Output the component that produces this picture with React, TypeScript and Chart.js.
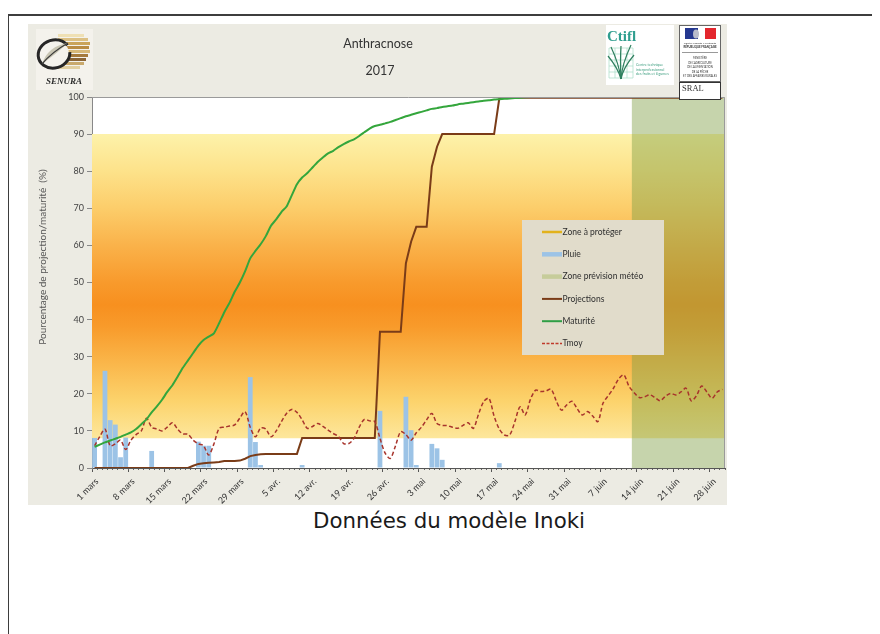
import React, { useEffect, useRef } from "react";
import { Chart, registerables } from "chart.js";

Chart.register(...registerables);

// ---- data (index 0 = 1 mars, index 121 = 30 juin) ----
const DAY_COUNT = 122;
const TICK_STEP = 7;
const TICK_LABELS = [
  "1 mars", "8 mars", "15 mars", "22 mars", "29 mars", "5 avr.", "12 avr.", "19 avr.", "26 avr.",
  "3 mai", "10 mai", "17 mai", "24 mai", "31 mai", "7 juin", "14 juin", "21 juin", "28 juin",
];
const FORECAST_START = 104; // 13 juin
const ZONE_HIGH = 90;
const ZONE_LOW = 8;
const Y_MAX = 100;

const PLUIE = [
  8.1, 0, 26.2, 12.9, 11.7, 2.9, 8.2, 0, 0, 0,
  0, 4.6, 0, 0, 0, 0, 0, 0, 0, 0,
  7.1, 6.0, 6.0, 0, 0, 0, 0, 0, 0, 0,
  24.5, 7.0, 0.8, 0, 0, 0, 0, 0, 0, 0,
  0.8, 0, 0, 0, 0, 0, 0, 0, 0, 0,
  0, 0, 0, 0, 0, 15.4, 0, 0, 0, 0,
  19.2, 10.2, 0.8, 0, 0, 6.5, 5.3, 2.2, 0, 0,
  0, 0, 0, 0, 0, 0, 0, 0, 1.3, 0,
  0, 0, 0, 0, 0, 0, 0, 0, 0, 0,
  0, 0, 0, 0, 0, 0, 0, 0, 0, 0,
  0, 0, 0, 0, 0, 0, 0, 0, 0, 0,
  0, 0, 0, 0, 0, 0, 0, 0, 0, 0,
  0, 0,
];

const PROJECTIONS = [
  0, 0, 0, 0, 0, 0, 0, 0, 0, 0,
  0, 0, 0, 0, 0, 0, 0, 0, 0, 0.6,
  1.1, 1.3, 1.4, 1.5, 1.6, 1.9, 1.9, 1.9, 2.0, 2.5,
  3.2, 3.5, 3.7, 3.8, 3.8, 3.8, 3.8, 3.8, 3.8, 3.8,
  8.1, 8.1, 8.1, 8.1, 8.1, 8.1, 8.1, 8.1, 8.1, 8.1,
  8.1, 8.1, 8.1, 8.1, 8.1, 36.7, 36.7, 36.7, 36.7, 36.7,
  55.2, 61, 65, 65, 65, 81.2, 86.6, 90, 90, 90,
  90, 90, 90, 90, 90, 90, 90, 90, 99.6, 99.8,
  99.8, 99.8, 99.8, 99.8, 99.8, 99.8, 99.8, 99.8, 99.8, 99.8,
  99.8, 99.8, 99.8, 99.8, 99.8, 99.8, 99.8, 99.8, 99.8, 99.8,
  99.8, 99.8, 99.8, 99.8, 99.8, 99.8, 99.8, 99.8, 99.8, 99.8,
  99.8, 99.8, 99.8, 99.8, 99.8, 99.8, 99.8, 99.8, 99.8, 99.8,
  99.8, 99.8,
];

const MATURITE = [
  5.7, 6.3, 6.9, 7.4, 7.9, 8.4, 9.0, 9.6, 10.5, 11.8,
  13.1, 15.0, 16.6, 18.4, 20.5, 22.3, 24.6, 27.0, 29.0, 31.0,
  33.0, 34.5, 35.4, 36.3, 39.0, 42.0, 44.5, 47.5, 50.0, 53.0,
  56.5, 58.5, 60.3, 62.5, 65.3, 67.0, 69.0, 70.5, 73.5, 76.5,
  78.3, 79.5, 81.0, 82.5, 83.7, 84.8, 85.5, 86.5, 87.3, 88.0,
  88.6, 89.5, 90.5, 91.5, 92.2, 92.5, 92.9, 93.3, 93.8, 94.3,
  94.8, 95.2, 95.6, 96.0, 96.4, 96.8, 97.0, 97.3, 97.5, 97.7,
  98.0, 98.2, 98.4, 98.6, 98.8, 99.0, 99.1, 99.3, 99.4, 99.5,
  99.6, 99.7, 99.8, 99.9, 100, 100, 100, 100, 100, 100,
  100, 100, 100, 100, 100, 100, 100, 100, 100, 100,
  100, 100, 100, 100, 100, 100, 100, 100, 100, 100,
  100, 100, 100, 100, 100, 100, 100, 100, 100, 100,
  100, 100,
];

const TMOY = [
  6.0, 8.5, 10.5, 6.0, 6.5, 7.5, 5.0, 7.5, 9.0, 10.0,
  13.4, 11.0, 10.5, 10.0, 11.0, 12.2, 10.5, 9.2, 9.1, 7.5,
  6.5, 6.0, 3.5, 6.5, 10.7, 11.0, 11.3, 11.6, 13.5, 15.2,
  11.0, 8.4, 10.8, 10.5, 8.4, 10.0, 12.5, 14.7, 15.8, 15.0,
  13.0, 10.7, 11.2, 12.0, 11.2, 10.2, 9.3, 8.5, 6.6, 6.6,
  8.0, 11.0, 13.1, 12.7, 12.5, 8.0, 4.0, 2.6, 6.0, 9.8,
  9.0, 7.5, 9.5, 11.0, 13.0, 14.7, 12.0, 11.5, 11.4, 11.0,
  10.7, 11.5, 12.2, 10.7, 14.5, 17.9, 18.8, 14.0, 10.5, 8.9,
  8.9, 12.5, 16.5, 14.3, 18.5, 21.0, 20.6, 20.8, 21.2, 18.0,
  15.6, 17.0, 18.0, 16.0, 14.3, 15.2, 14.0, 12.5, 17.5, 19.5,
  21.5, 24.0, 25.1, 22.0, 20.3, 19.0, 19.2, 19.7, 19.0, 18.1,
  19.3, 20.1, 19.7, 20.5, 21.5, 18.1, 19.5, 22.1, 20.5, 18.8,
  20.5, 21.2,
];

// ---- styles ----
const BG = "#ecebe3";
const C_RAIN = "#9cc3e6";
const C_PROJ = "#7a3c18";
const C_MAT = "#34a63c";
const C_TMOY = "#a8342c";
const C_FORECAST = "rgba(128,160,70,0.45)";
const ZONE_STOPS: [number, string][] = [
  [90, "#fdf2aa"], [80, "#fde28a"], [70, "#fccd6a"], [60, "#fab24a"], [50, "#f89a2c"],
  [44, "#f7901f"], [38, "#f89b2b"], [28, "#fab74b"], [18, "#fcd36c"], [8, "#fde79c"],
];

const LEGEND = [
  { label: "Zone à protéger", kind: "line", color: "#e2b21c", width: 2.5 },
  { label: "Pluie", kind: "line", color: C_RAIN, width: 4.5 },
  { label: "Zone prévision météo", kind: "line", color: "#c6cc9a", width: 4.5 },
  { label: "Projections", kind: "line", color: C_PROJ, width: 2 },
  { label: "Maturité", kind: "line", color: "#2f9e45", width: 2 },
  { label: "Tmoy", kind: "dash", color: "#c0392b", width: 1.3 },
];

const pts = (arr: number[]) => arr.map((y, i) => ({ x: i + 0.5, y }));

const zoneGradient = (c: any) => {
  const chart = c.chart;
  if (!chart.chartArea || !chart.scales.y) return "#f8a030";
  const ys = chart.scales.y;
  const top = ys.getPixelForValue(ZONE_HIGH);
  const bot = ys.getPixelForValue(ZONE_LOW);
  const g = chart.ctx.createLinearGradient(0, top, 0, bot);
  ZONE_STOPS.forEach(([v, col]) => g.addColorStop((ZONE_HIGH - v) / (ZONE_HIGH - ZONE_LOW), col));
  return g;
};

function drawSenura(ctx: CanvasRenderingContext2D) {
  ctx.save();
  ctx.fillStyle = "#f4f2ec";
  ctx.fillRect(8, 5, 57, 61);
  const stripes: [string, number, number][] = [
    ["#efe0b4", 10, 26], ["#dcc083", 14, 30], ["#caa45a", 18, 32], ["#b98c44", 22, 31],
    ["#d8b978", 26, 32], ["#a57a3c", 30, 30], ["#8c6636", 34, 28], ["#c9a96c", 38, 26], ["#e2cfa0", 42, 22],
  ];
  stripes.forEach(([c, y, w]) => {
    ctx.fillStyle = c;
    ctx.fillRect(30, y, w, 3);
  });
  ctx.fillStyle = "#f4f2ec";
  ctx.beginPath();
  ctx.ellipse(26, 30, 15, 14, -0.3, 0, Math.PI * 2);
  ctx.fill();
  ctx.strokeStyle = "#262626";
  ctx.lineWidth = 3;
  ctx.beginPath();
  ctx.ellipse(26, 30, 16, 14, -0.3, 0.2, Math.PI * 1.9);
  ctx.stroke();
  ctx.fillStyle = "#c9c6b4";
  ctx.beginPath();
  ctx.moveTo(14, 40);
  ctx.quadraticCurveTo(20, 22, 40, 19);
  ctx.quadraticCurveTo(28, 30, 14, 40);
  ctx.fill();
  ctx.strokeStyle = "#3a3a3a";
  ctx.lineWidth = 1.2;
  ctx.beginPath();
  ctx.moveTo(14, 40);
  ctx.quadraticCurveTo(24, 28, 40, 19);
  ctx.stroke();
  ctx.font = 'italic bold 9px "Liberation Serif"';
  ctx.fillStyle = "#2b2b2b";
  ctx.textAlign = "center";
  ctx.textBaseline = "alphabetic";
  ctx.fillText("SENURA", 36, 60);
  ctx.restore();
}

function drawCtifl(ctx: CanvasRenderingContext2D) {
  ctx.save();
  ctx.fillStyle = "#ffffff";
  ctx.fillRect(578, 1, 68, 60);
  ctx.font = 'bold 15px "Liberation Serif"';
  ctx.fillStyle = "#2f9e8f";
  ctx.textAlign = "left";
  ctx.textBaseline = "alphabetic";
  ctx.fillText("Ctifl", 579, 17);
  ctx.strokeStyle = "#a6dcc6";
  ctx.lineWidth = 0.7;
  for (let i = 0; i <= 4; i++) {
    ctx.beginPath();
    ctx.moveTo(581 + i * 6, 24);
    ctx.lineTo(581 + i * 6, 54);
    ctx.stroke();
  }
  for (let j = 0; j <= 5; j++) {
    ctx.beginPath();
    ctx.moveTo(581, 24 + j * 6);
    ctx.lineTo(605, 24 + j * 6);
    ctx.stroke();
  }
  ctx.strokeStyle = "#2f7f5f";
  ctx.lineWidth = 1.2;
  const branches: [number, number, number, number][] = [
    [593, 22, 592, 36], [583, 23, 591, 40], [603, 21, 594, 40], [606, 31, 595, 44], [580, 32, 590, 44],
  ];
  branches.forEach(([x1, y1, cx, cy]) => {
    ctx.beginPath();
    ctx.moveTo(593, 55);
    ctx.quadraticCurveTo(cx, cy, x1, y1);
    ctx.stroke();
  });
  ctx.font = "3.6px Lato";
  ctx.fillStyle = "#3f9f80";
  ctx.fillText("Centre technique", 608, 42);
  ctx.fillText("interprofessionnel", 608, 46.5);
  ctx.fillText("des fruits et légumes", 608, 51);
  ctx.restore();
}

function drawMinistry(ctx: CanvasRenderingContext2D) {
  ctx.save();
  ctx.fillStyle = "#ffffff";
  ctx.fillRect(651, 1, 42, 57);
  ctx.strokeStyle = "#666";
  ctx.lineWidth = 1;
  ctx.strokeRect(651.5, 1.5, 41, 56);
  ctx.fillStyle = "#24378f";
  ctx.fillRect(657, 4, 13, 11);
  ctx.fillStyle = "#e3262d";
  ctx.fillRect(677, 4, 11, 11);
  ctx.fillStyle = "#b9bccb";
  ctx.beginPath();
  ctx.ellipse(668, 10, 3, 4.5, 0, 0, Math.PI * 2);
  ctx.fill();
  ctx.fillStyle = "#333";
  ctx.textAlign = "center";
  ctx.textBaseline = "alphabetic";
  ctx.font = "2.6px Lato";
  ctx.fillText("Liberté • Égalité • Fraternité", 672, 19.5);
  ctx.font = "bold 2.8px Lato";
  ctx.fillText("RÉPUBLIQUE FRANÇAISE", 672, 23.5);
  ctx.strokeStyle = "#999";
  ctx.beginPath();
  ctx.moveTo(654, 28.5);
  ctx.lineTo(690, 28.5);
  ctx.stroke();
  ctx.font = "2.7px Lato";
  ["MINISTÈRE", "DE L'AGRICULTURE", "DE L'ALIMENTATION", "DE LA PÊCHE", "ET DES AFFAIRES RURALES"].forEach(
    (t, i) => ctx.fillText(t, 672, 35 + i * 4.5)
  );
  ctx.fillStyle = "#ffffff";
  ctx.fillRect(651, 58, 42, 18);
  ctx.strokeStyle = "#333";
  ctx.strokeRect(651.5, 58.5, 41, 17);
  ctx.font = '8.5px "Liberation Serif"';
  ctx.fillStyle = "#333";
  ctx.textAlign = "left";
  ctx.fillText("SRAL", 654, 67);
  ctx.restore();
}

const decorPlugin = {
  id: "decor",
  beforeDraw(chart: any) {
    const { ctx, width, height, chartArea: a } = chart;
    ctx.save();
    ctx.fillStyle = BG;
    ctx.fillRect(0, 0, width, height);
    ctx.fillStyle = "#ffffff";
    ctx.fillRect(a.left, a.top, a.right - a.left, a.bottom - a.top);
    ctx.restore();
  },
  afterDraw(chart: any) {
    const { ctx, chartArea: a } = chart;
    ctx.save();
    // plot border (top / right)
    ctx.strokeStyle = "#9a9a9a";
    ctx.lineWidth = 1;
    ctx.beginPath();
    ctx.moveTo(a.left, a.top + 0.5);
    ctx.lineTo(a.right - 0.5, a.top + 0.5);
    ctx.lineTo(a.right - 0.5, a.bottom);
    ctx.stroke();

    // titles
    ctx.fillStyle = "#333";
    ctx.textAlign = "center";
    ctx.textBaseline = "middle";
    ctx.font = "12.5px Lato";
    ctx.fillText("Anthracnose", 350, 20);
    ctx.fillText("2017", 352, 47);

    // y title
    ctx.save();
    ctx.translate(15, 233);
    ctx.rotate(-Math.PI / 2);
    ctx.font = "10px Lato";
    ctx.fillStyle = "#555";
    ctx.fillText("Pourcentage de projection/maturité  (%)", 0, 0);
    ctx.restore();

    // legend
    const LX = 494, LY = 196, LW = 142, LH = 135;
    ctx.fillStyle = "#e1dccb";
    ctx.fillRect(LX, LY, LW, LH);
    ctx.textAlign = "left";
    ctx.textBaseline = "middle";
    ctx.font = "8.5px Lato";
    LEGEND.forEach((it, k) => {
      const cy = LY + 12 + k * 22.3;
      ctx.save();
      ctx.strokeStyle = it.color;
      ctx.lineWidth = it.width;
      if (it.kind === "dash") ctx.setLineDash([3, 1.5]);
      ctx.beginPath();
      ctx.moveTo(LX + 20, cy);
      ctx.lineTo(LX + 40, cy);
      ctx.stroke();
      ctx.restore();
      ctx.fillStyle = "#2f2f2f";
      ctx.fillText(it.label, LX + 40.5, cy);
    });

    drawSenura(ctx);
    drawCtifl(ctx);
    drawMinistry(ctx);
    ctx.restore();
  },
};

function ChartCanvas() {
  const ref = useRef<HTMLCanvasElement | null>(null);
  useEffect(() => {
    if (!ref.current) return;
    const chart = new Chart(ref.current, {
      type: "line",
      data: {
        datasets: [
          {
            type: "line",
            label: "Zone à protéger",
            data: [{ x: 0, y: ZONE_HIGH }, { x: DAY_COUNT, y: ZONE_HIGH }],
            fill: { value: ZONE_LOW },
            backgroundColor: zoneGradient,
            borderColor: "rgba(0,0,0,0)",
            borderWidth: 0,
            pointRadius: 0,
            order: 10,
          },
          {
            type: "line",
            label: "Zone prévision météo",
            data: [{ x: FORECAST_START, y: Y_MAX }, { x: DAY_COUNT, y: Y_MAX }],
            fill: "origin",
            backgroundColor: C_FORECAST,
            borderColor: "rgba(0,0,0,0)",
            borderWidth: 0,
            pointRadius: 0,
            order: 9,
          },
          {
            type: "bar",
            label: "Pluie",
            data: pts(PLUIE),
            backgroundColor: C_RAIN,
            borderWidth: 0,
            barPercentage: 0.92,
            categoryPercentage: 1,
            order: 5,
          },
          {
            type: "line",
            label: "Projections",
            data: pts(PROJECTIONS),
            borderColor: C_PROJ,
            borderWidth: 2,
            pointRadius: 0,
            tension: 0,
            fill: false,
            order: 3,
          },
          {
            type: "line",
            label: "Tmoy",
            data: pts(TMOY),
            borderColor: C_TMOY,
            borderWidth: 1.5,
            borderDash: [4, 2.5],
            pointRadius: 0,
            tension: 0.3,
            fill: false,
            order: 2,
          },
          {
            type: "line",
            label: "Maturité",
            data: pts(MATURITE),
            borderColor: C_MAT,
            borderWidth: 2,
            pointRadius: 0,
            tension: 0.2,
            fill: false,
            order: 1,
          },
        ],
      } as any,
      options: {
        animation: false,
        responsive: false,
        devicePixelRatio: 1,
        events: [],
        layout: { padding: { top: 73, right: 2, left: 0, bottom: 0 } },
        plugins: { legend: { display: false }, tooltip: { enabled: false }, title: { display: false } },
        scales: {
          x: {
            type: "linear",
            min: 0,
            max: DAY_COUNT,
            offset: false,
            position: "bottom",
            z: 1,
            afterBuildTicks: (s: any) => {
              s.ticks = s.ticks.filter(
                (t: any) => t.value % TICK_STEP === 0 && t.value / TICK_STEP < TICK_LABELS.length
              );
            },
            afterFit: (s: any) => {
              s.height = 37;
            },
            ticks: {
              stepSize: TICK_STEP,
              autoSkip: false,
              minRotation: 45,
              maxRotation: 45,
              padding: 4,
              labelOffset: 5,
              color: "#333",
              font: { family: "Lato", size: 9 },
              callback: (v: any) => TICK_LABELS[Math.round(Number(v) / TICK_STEP)] ?? "",
            },
            grid: { drawOnChartArea: false, offset: false, tickLength: 4, color: "#555" },
            border: { color: "#555", width: 1 },
          },
          xMinor: {
            type: "linear",
            min: 0,
            max: DAY_COUNT,
            offset: false,
            position: "bottom",
            weight: -1,
            z: 1,
            ticks: { display: false, stepSize: 1 },
            grid: { drawOnChartArea: false, offset: false, tickLength: 2, color: "#666" },
            border: { display: false },
            afterFit: (s: any) => {
              s.height = 0;
            },
          },
          y: {
            type: "linear",
            min: 0,
            max: Y_MAX,
            ticks: { stepSize: 10, color: "#444", padding: 3, font: { family: "Lato", size: 9 } },
            grid: { drawOnChartArea: false, tickLength: 5, color: "#888" },
            border: { color: "#888", width: 1 },
            afterFit: (s: any) => {
              s.width = 64;
            },
          },
        },
      } as any,
      plugins: [decorPlugin],
    });
    return () => chart.destroy();
  }, []);
  return (
    <canvas
      ref={ref}
      width={699}
      height={481}
      style={{ position: "absolute", left: 28, top: 16, width: 699, height: 481 }}
    />
  );
}

export default function App() {
  return (
    <div style={{ position: "relative", marginLeft: -8, width: 880, height: 626, overflow: "hidden" }}>
      <div
        style={{
          position: "absolute",
          left: 7,
          top: 6,
          width: 900,
          height: 700,
          borderLeft: "2px solid #3d3d3d",
          borderTop: "2px solid #3d3d3d",
        }}
      />
      <ChartCanvas />
      <div
        style={{
          position: "absolute",
          left: 0,
          width: 898,
          top: 499.5,
          textAlign: "center",
          fontFamily: '"DejaVu Sans"',
          fontSize: 21.33,
          color: "#1a1a1a",
          whiteSpace: "nowrap",
        }}
      >
        Données du modèle Inoki
      </div>
    </div>
  );
}
